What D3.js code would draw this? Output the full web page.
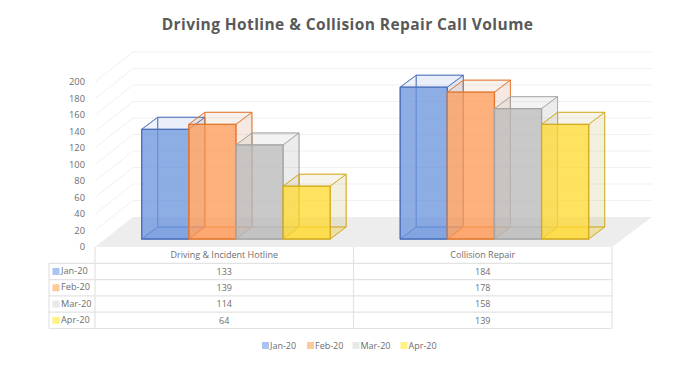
<!DOCTYPE html>
<html>
<head>
<meta charset="utf-8">
<script src="https://cdn.jsdelivr.net/npm/d3@7"></script>
<style>
  html, body { margin: 0; padding: 0; background: #fff; }
  svg { display: block; font-family: "Open Sans", sans-serif; }
  text { fill: #6e6e6e; }
</style>
</head>
<body>
<svg id="chart" width="700" height="367"></svg>
<script>
// Values
const categories = ['Driving & Incident Hotline', 'Collision Repair'];
const seriesNames = ['Jan-20', 'Feb-20', 'Mar-20', 'Apr-20'];
const jan20 = [133, 184];
const feb20 = [139, 178];
const mar20 = [114, 158];
const apr20 = [64, 139];
const seriesValues = [jan20, feb20, mar20, apr20];
const yTicks = [0, 20, 40, 60, 80, 100, 120, 140, 160, 180, 200];

const strokes = ['#4a70bb', '#e2782f', '#a5a5a5', '#d3ab20'];
const fronts = ['#6b94dd', '#ff9a55', '#b9b9b9', '#ffd92f'];
const sides = ['#4472c4', '#c4794a', '#8f8f8f', '#bda544'];
const swatches = ['#a9c4f0', '#fccb99', '#e8e8e8', '#fff27f'];

const svg = d3.select('#chart');

// Floor corners and depth of the 3D box
const plot = { left: 95, right: 612, floor: 247, top: 82 };
const wall = { dx: 38, dy: -30 };
const bar = { dx: 16, dy: -12, baseDrop: 8 };

const x0 = d3.scaleBand().domain(categories).range([plot.left, plot.right]);
const x1 = d3.scaleBand().domain(seriesNames).range([46.7, 235.2]);
const y = d3.scaleLinear().domain([0, 200]).range([plot.floor, plot.top]);

svg.append('text')
  .attr('x', 347.5)
  .attr('y', 30)
  .attr('text-anchor', 'middle')
  .attr('font-size', 15.5)
  .attr('font-weight', 700)
  .attr('letter-spacing', 0.42)
  .style('fill', '#595959')
  .text('Driving Hotline & Collision Repair Call Volume');

// Floor
const poly = (pts) => pts.map((p) => p.join(',')).join(' ');
svg.append('polygon')
  .attr('points', poly([
    [plot.left, plot.floor],
    [plot.left + wall.dx, plot.floor + wall.dy],
    [plot.right + wall.dx + 2, plot.floor + wall.dy],
    [plot.right, plot.floor],
  ]))
  .attr('fill', '#ededed');

// Gridlines along side wall and back wall
const grid = svg.append('g')
  .attr('fill', 'none')
  .attr('stroke', '#f1f1f1')
  .attr('stroke-width', 1);
grid.selectAll('polyline')
  .data(yTicks.slice(1))
  .join('polyline')
  .attr('points', (d) => poly([
    [plot.left, y(d)],
    [plot.left + wall.dx, y(d) + wall.dy],
    [plot.right + wall.dx + 2, y(d) + wall.dy],
  ]));

// Y axis, labels only
const yAxisG = svg.append('g')
  .attr('transform', `translate(${plot.left - 10},0)`)
  .call(d3.axisLeft(y).tickValues(yTicks).tickSize(0).tickPadding(0));
yAxisG.select('.domain').remove();
yAxisG.selectAll('text')
  .attr('font-size', 9.3)
  .attr('font-family', '"Open Sans"')
  .style('fill', '#6e6e6e');

// Bars, series by series so later ones sit over earlier ones
function drawBar(g, xl, w, value, i) {
  const b = plot.floor - bar.baseDrop;
  const t = b - (plot.floor - y(value));
  const { dx, dy } = bar;
  const faces = [
    { pts: [[xl + dx, b + dy], [xl + w + dx, b + dy], [xl + w + dx, t + dy], [xl + dx, t + dy]], op: 0.07, color: sides[i] },
    { pts: [[xl, b], [xl + dx, b + dy], [xl + dx, t + dy], [xl, t]], op: 0.05, color: sides[i] },
    { pts: [[xl, b], [xl + w, b], [xl + w + dx, b + dy], [xl + dx, b + dy]], op: 0.3, color: fronts[i] },
    { pts: [[xl + w, b], [xl + w + dx, b + dy], [xl + w + dx, t + dy], [xl + w, t]], op: 0.1, color: sides[i] },
    { pts: [[xl, t], [xl + w, t], [xl + w + dx, t + dy], [xl + dx, t + dy]], op: 0.04, color: sides[i] },
    { pts: [[xl, b], [xl + w, b], [xl + w, t], [xl, t]], op: 0.75, color: fronts[i], front: true },
  ];
  g.selectAll('polygon')
    .data(faces)
    .join('polygon')
    .attr('points', (d) => poly(d.pts))
    .attr('fill', (d) => d.color)
    .attr('fill-opacity', (d) => d.op)
    .attr('stroke', strokes[i])
    .attr('stroke-opacity', (d) => (d.front ? 1 : 0.7))
    .attr('stroke-width', (d) => (d.front ? 1.3 : 1))
    .attr('stroke-linejoin', 'round');
}

const marks = svg.append('g');
categories.forEach((cat, c) => {
  seriesNames.forEach((name, i) => {
    const g = marks.append('g');
    drawBar(g, x0(cat) + x1(name), x1.bandwidth(), seriesValues[i][c], i);
  });
});

// Data table
const table = { left: 49, rowH: 16.3, top: 247 };
const rowY = (r) => table.top + table.rowH * r;
const tableG = svg.append('g');

const lines = tableG.append('g')
  .attr('stroke', '#e3e3e3')
  .attr('stroke-width', 1.2);
d3.range(1, seriesNames.length + 2).forEach((r) => {
  lines.append('line')
    .attr('x1', table.left).attr('x2', plot.right)
    .attr('y1', rowY(r)).attr('y2', rowY(r));
});
lines.append('line')
  .attr('x1', table.left).attr('x2', table.left)
  .attr('y1', rowY(1)).attr('y2', rowY(5));
[plot.left, x0(categories[1]), plot.right].forEach((xv) => {
  lines.append('line')
    .attr('x1', xv).attr('x2', xv)
    .attr('y1', rowY(0)).attr('y2', rowY(5));
});

categories.forEach((cat) => {
  const cx = x0(cat) + x0.bandwidth() / 2;
  tableG.append('text')
    .attr('x', cx).attr('y', rowY(0.5))
    .attr('dy', '0.35em')
    .attr('text-anchor', 'middle')
    .attr('font-size', 9)
    .text(cat);
});

seriesNames.forEach((name, i) => {
  const row = tableG.append('g');
  row.append('rect')
    .attr('x', 52.5).attr('y', rowY(i + 1.5) - 3.5)
    .attr('width', 7).attr('height', 7)
    .attr('fill', swatches[i]);
  row.append('text')
    .attr('x', 61).attr('y', rowY(i + 1.5) - 0.5)
    .attr('dy', '0.35em')
    .attr('font-size', 9.2)
    .text(name);
  categories.forEach((cat, c) => {
    row.append('text')
      .attr('x', x0(cat) + x0.bandwidth() / 2).attr('y', rowY(i + 1.5))
      .attr('dy', '0.35em')
      .attr('text-anchor', 'middle')
      .attr('font-size', 9)
      .text(seriesValues[i][c]);
  });
});

// Legend
const legendX = d3.scaleOrdinal().domain(seriesNames).range([262, 307, 352.5, 400.5]);
const legend = svg.append('g');
seriesNames.forEach((name, i) => {
  legend.append('rect')
    .attr('x', legendX(name)).attr('y', 342)
    .attr('width', 7).attr('height', 7)
    .attr('fill', swatches[i]);
  legend.append('text')
    .attr('x', legendX(name) + 8).attr('y', 345.5)
    .attr('dy', '0.35em')
    .attr('font-size', 9)
    .text(name);
});
</script>
</body>
</html>
